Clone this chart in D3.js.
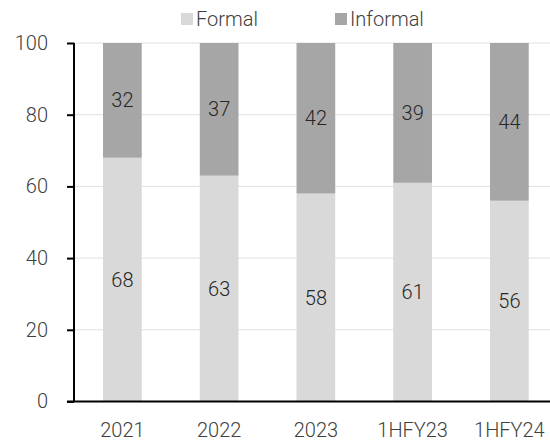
<!DOCTYPE html>
<html>
<head>
<meta charset="utf-8">
<script src="https://cdn.jsdelivr.net/npm/d3@7/dist/d3.min.js"></script>
<style>
  html, body { margin: 0; padding: 0; background: #fff; }
  svg { display: block; }
  text { font-family: Roboto, "Noto Sans", sans-serif; font-weight: 300; }
</style>
</head>
<body>
<svg id="chart" width="550" height="441"></svg>
<script>
// Share of formal vs informal, percent
const categories = ["2021", "2022", "2023", "1HFY23", "1HFY24"];
const formal = [68, 63, 58, 61, 56];
const informal = [32, 37, 42, 39, 44];
const seriesNames = ["Formal", "Informal"];
const yTicks = [0, 20, 40, 60, 80, 100];

const colors = { Formal: "#d9d9d9", Informal: "#a6a6a6" };

const W = 550, H = 441;
const axisX = 74, plotRight = 557.75;
const y0 = 401.5, y100 = 43;

const svg = d3.select("#chart");

const rows = categories.map((c, i) => ({ cat: c, Formal: formal[i], Informal: informal[i] }));
const stacked = d3.stack().keys(seriesNames)(rows);

const x = d3.scaleBand()
  .domain(categories)
  .range([axisX, plotRight])
  .paddingInner(0.6)
  .paddingOuter(0.3);

const y = d3.scaleLinear().domain([0, 100]).range([y0, y100]);

// horizontal gridlines
svg.append("g")
  .selectAll("line")
  .data(yTicks.filter(t => t > 0))
  .join("line")
  .attr("x1", axisX).attr("x2", W)
  .attr("y1", d => y(d)).attr("y2", d => y(d))
  .attr("stroke", "#e0e0e0")
  .attr("stroke-width", 1);

// stacked bars
const layers = svg.append("g")
  .selectAll("g")
  .data(stacked)
  .join("g")
  .attr("fill", d => colors[d.key]);

layers.selectAll("rect")
  .data(d => d)
  .join("rect")
  .attr("x", d => x(d.data.cat))
  .attr("width", x.bandwidth())
  .attr("y", d => y(d[1]))
  .attr("height", d => y(d[0]) - y(d[1]));

// value labels centred in each segment
layers.selectAll("text")
  .data(d => d.map(v => ({ v, key: d.key })))
  .join("text")
  .attr("x", d => x(d.v.data.cat) + x.bandwidth() / 2)
  .attr("y", d => y((d.v[0] + d.v[1]) / 2))
  .attr("dy", "0.35em")
  .attr("text-anchor", "middle")
  .attr("fill", "#262626")
  .attr("font-size", 20)
  .text(d => d.v.data[d.key]);

// y axis
const yAxis = svg.append("g")
  .attr("transform", `translate(${axisX},0)`)
  .call(d3.axisLeft(y).tickValues(yTicks).tickSize(7).tickPadding(19).tickSizeOuter(0));
yAxis.select(".domain").attr("stroke", "#000").attr("stroke-width", 2)
  .attr("d", `M0,${y100}V${y0}`);
yAxis.selectAll(".tick line").attr("stroke", "#000").attr("stroke-width", 2);
yAxis.selectAll(".tick text")
  .attr("font-size", 20).attr("fill", "#404040")
  .attr("font-family", "Roboto, sans-serif").attr("font-weight", 300);

// x axis
const xAxis = svg.append("g")
  .attr("transform", `translate(0,${y0})`)
  .call(d3.axisBottom(x).tickSize(0).tickPadding(21).tickSizeOuter(0));
xAxis.select(".domain").attr("stroke", "#000").attr("stroke-width", 2)
  .attr("d", `M${axisX - 7},0H${W}`);
xAxis.selectAll(".tick text")
  .attr("font-size", 20).attr("fill", "#404040")
  .attr("font-family", "Roboto, sans-serif").attr("font-weight", 300);

// legend
const legendX = [181, 335];
const legend = svg.append("g")
  .selectAll("g")
  .data(seriesNames)
  .join("g")
  .attr("transform", (d, i) => `translate(${legendX[i]},13)`);
legend.append("rect")
  .attr("width", 12).attr("height", 12)
  .attr("fill", d => colors[d]);
legend.append("text")
  .attr("x", 15).attr("y", 13)
  .attr("font-size", 20).attr("fill", "#404040")
  .text(d => d);
</script>
</body>
</html>
